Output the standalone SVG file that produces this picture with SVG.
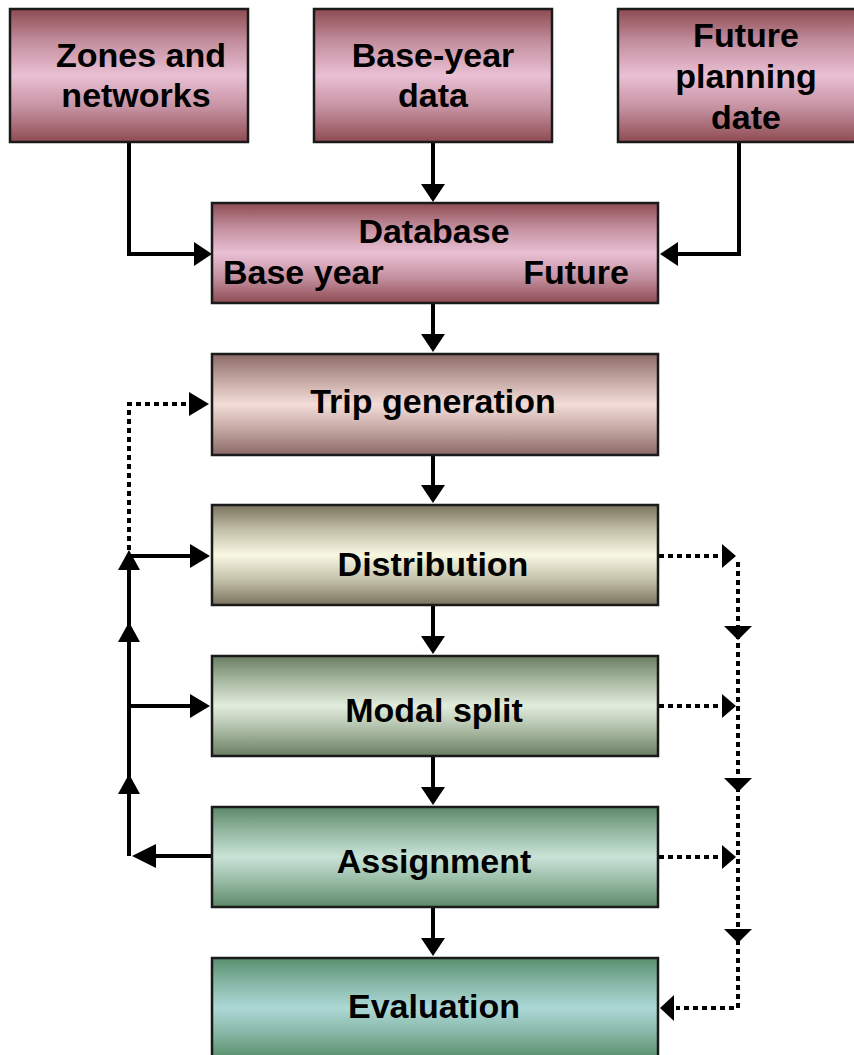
<svg xmlns="http://www.w3.org/2000/svg" width="854" height="1055" viewBox="0 0 854 1055">
<defs>
<linearGradient id="gPink" x1="0" y1="0" x2="0" y2="1">
<stop offset="0" stop-color="#8e4b52"/><stop offset="0.25" stop-color="#c38f9f"/><stop offset="0.5" stop-color="#eac0d4"/><stop offset="0.75" stop-color="#c38f9f"/><stop offset="1" stop-color="#8e4b52"/>
</linearGradient>
<linearGradient id="gTrip" x1="0" y1="0" x2="0" y2="1">
<stop offset="0" stop-color="#8a6a66"/><stop offset="0.25" stop-color="#c3a5a1"/><stop offset="0.5" stop-color="#f3ddd9"/><stop offset="0.75" stop-color="#c3a5a1"/><stop offset="1" stop-color="#8a6a66"/>
</linearGradient>
<linearGradient id="gDist" x1="0" y1="0" x2="0" y2="1">
<stop offset="0" stop-color="#7a735f"/><stop offset="0.25" stop-color="#c3c0a8"/><stop offset="0.5" stop-color="#f8f7e2"/><stop offset="0.75" stop-color="#c3c0a8"/><stop offset="1" stop-color="#7a735f"/>
</linearGradient>
<linearGradient id="gModal" x1="0" y1="0" x2="0" y2="1">
<stop offset="0" stop-color="#6a7e63"/><stop offset="0.25" stop-color="#a9b9a2"/><stop offset="0.5" stop-color="#e1eddd"/><stop offset="0.75" stop-color="#a9b9a2"/><stop offset="1" stop-color="#6a7e63"/>
</linearGradient>
<linearGradient id="gAssign" x1="0" y1="0" x2="0" y2="1">
<stop offset="0" stop-color="#5d8968"/><stop offset="0.25" stop-color="#95b9a3"/><stop offset="0.5" stop-color="#c9e3d7"/><stop offset="0.75" stop-color="#95b9a3"/><stop offset="1" stop-color="#5d8968"/>
</linearGradient>
<linearGradient id="gEval" x1="0" y1="0" x2="0" y2="1">
<stop offset="0" stop-color="#5a8f6e"/><stop offset="0.25" stop-color="#86b7a5"/><stop offset="0.5" stop-color="#add8d7"/><stop offset="0.75" stop-color="#86b7a5"/><stop offset="1" stop-color="#5a8f6e"/>
</linearGradient>
</defs>
<style>
.box{stroke:#1a1a1a;stroke-width:2.5}
.t{font-family:"Liberation Sans",Arial,sans-serif;font-weight:bold;font-size:34px;fill:#000;text-anchor:middle}
.solid{fill:none;stroke:#000;stroke-width:4}
.dot{fill:none;stroke:#000;stroke-width:4;stroke-dasharray:5 4}
.head{fill:#000}
</style>
<rect width="854" height="1055" fill="#fff"/>

<g id="connectors">
<path class="solid" d="M129,142 V254 H198"/>
<path class="head" d="M212,254 L194,242 L194,266 Z"/>
<path class="solid" d="M433,142 V186"/>
<path class="head" d="M433,202 L421,184 L445,184 Z"/>
<path class="solid" d="M739,142 V254 H676"/>
<path class="head" d="M660,254 L678,242 L678,266 Z"/>
<path class="solid" d="M433,303 V336"/>
<path class="head" d="M433,352 L421,334 L445,334 Z"/>
<path class="solid" d="M433,455 V487"/>
<path class="head" d="M433,503 L421,485 L445,485 Z"/>
<path class="solid" d="M433,605 V638"/>
<path class="head" d="M433,654 L421,636 L445,636 Z"/>
<path class="solid" d="M433,756 V789"/>
<path class="head" d="M433,805 L421,787 L445,787 Z"/>
<path class="solid" d="M433,907 V940"/>
<path class="head" d="M433,956 L421,938 L445,938 Z"/>
<path class="solid" d="M211,856 H150"/>
<path class="head" d="M132,856 L156,844 L156,868 Z"/>
<path class="solid" d="M129,856 V556"/>
<path class="head" d="M129,774 L118,794 L140,794 Z"/>
<path class="head" d="M129,622 L118,642 L140,642 Z"/>
<path class="head" d="M129,550 L118,570 L140,570 Z"/>
<path class="solid" d="M129,556 H196"/>
<path class="head" d="M210,556 L190,544 L190,568 Z"/>
<path class="solid" d="M129,706 H196"/>
<path class="head" d="M210,706 L190,694 L190,718 Z"/>
<path class="dot" d="M129,550 V404 H196"/>
<path class="head" d="M209,404 L189,392 L189,416 Z"/>
<path class="dot" d="M659,556 H722"/>
<path class="head" d="M736,556 L722,544 L722,568 Z"/>
<path class="dot" d="M659,706 H722"/>
<path class="head" d="M736,706 L722,694 L722,718 Z"/>
<path class="dot" d="M659,857 H722"/>
<path class="head" d="M736,857 L722,845 L722,869 Z"/>
<path class="dot" d="M738,562 V1008 H676"/>
<path class="head" d="M738,640 L724,626 L752,626 Z"/>
<path class="head" d="M738,792 L724,778 L752,778 Z"/>
<path class="head" d="M738,943 L724,929 L752,929 Z"/>
<path class="head" d="M660,1008 L674,995 L674,1021 Z"/>
</g>

<g id="zones">
<rect class="box" x="10" y="9" width="238" height="133" fill="url(#gPink)"/>
<text class="t" x="141" y="67">Zones and</text>
<text class="t" x="136" y="107">networks</text>
</g>
<g id="baseyear">
<rect class="box" x="314" y="9" width="238" height="133" fill="url(#gPink)"/>
<text class="t" x="433" y="67">Base-year</text>
<text class="t" x="433" y="107">data</text>
</g>
<g id="future">
<rect class="box" x="618" y="9" width="240" height="133" fill="url(#gPink)"/>
<text class="t" x="746" y="47">Future</text>
<text class="t" x="746" y="88">planning</text>
<text class="t" x="746" y="129">date</text>
</g>
<g id="database">
<rect class="box" x="212" y="203" width="446" height="100" fill="url(#gPink)"/>
<text class="t" x="434" y="243">Database</text>
<text class="t" x="223" y="284" style="text-anchor:start">Base year</text>
<text class="t" x="629" y="284" style="text-anchor:end">Future</text>
</g>
<g id="tripgen">
<rect class="box" x="212" y="354" width="446" height="101" fill="url(#gTrip)"/>
<text class="t" x="433" y="413">Trip generation</text>
</g>
<g id="distribution">
<rect class="box" x="212" y="505" width="446" height="100" fill="url(#gDist)"/>
<text class="t" x="433" y="576">Distribution</text>
</g>
<g id="modalsplit">
<rect class="box" x="212" y="656" width="446" height="100" fill="url(#gModal)"/>
<text class="t" x="434" y="722">Modal split</text>
</g>
<g id="assignment">
<rect class="box" x="212" y="807" width="446" height="100" fill="url(#gAssign)"/>
<text class="t" x="434" y="873">Assignment</text>
</g>
<g id="evaluation">
<rect class="box" x="212" y="958" width="446" height="100" fill="url(#gEval)"/>
<text class="t" x="434" y="1018">Evaluation</text>
</g>
</svg>
